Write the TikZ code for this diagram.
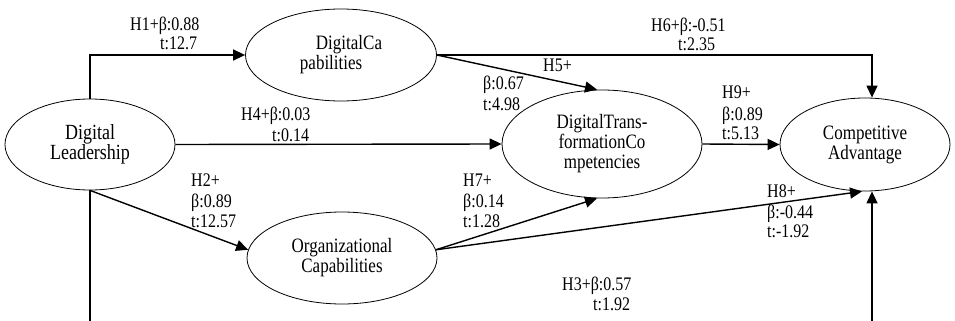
\documentclass[tikz,border=0pt]{standalone}
\usepackage{graphicx}
\usepackage{fontspec}
\setmainfont{Liberation Serif}
\usetikzlibrary{shapes.geometric,arrows.meta}
% glyphs are set slightly taller than wide
\newcommand{\tl}[1]{\scalebox{1}[1.2]{#1}}
\begin{document}
\begin{tikzpicture}[x=1pt,y=-1pt,
  construct/.style={draw, ellipse, line width=0.8pt, inner sep=0pt, align=center,
    font=\fontsize{17}{20}\selectfont},
  conn/.style={line width=1.4pt, -{Triangle[length=12pt,width=11pt]}},
  lbl/.style={anchor=base west, inner sep=0pt, font=\fontsize{16}{20}\selectfont}]
\useasboundingbox (0,0) rectangle (955,321);

% constructs
\node[construct, minimum width=170pt, minimum height=91pt,
      font=\fontsize{18}{20}\selectfont] (dl) at (90,144.5) {\tl{Digital}\\\tl{Leadership}};
\node[construct, minimum width=191pt, minimum height=92pt, align=left]
      (dc) at (341,55) {\hspace*{16pt}\tl{DigitalCa}\\\tl{pabilities}};
\node[construct, minimum width=200pt, minimum height=108pt]
      (dtc) at (602,144) {\tl{DigitalTrans-}\\\tl{formationCo}\\\tl{mpetencies}};
\node[construct, minimum width=170pt, minimum height=93pt]
      (ca) at (865,144.5) {\tl{Competitive}\\\tl{Advantage}};
\node[construct, minimum width=190pt, minimum height=92pt]
      (oc) at (342,258) {\tl{Organizational}\\\tl{Capabilities}};

% paths
\draw[conn] (dl.north) |- (dc.west);
\draw[conn] (dc.east) -| ([xshift=7pt]ca.north);
\draw[conn] (dc.east) -- ([xshift=-5pt]dtc.north);
\draw[conn] (dl.east) -- (dtc.west);
\draw[conn] (dtc.east) -- (ca.west);
\draw[conn] (dl.south) -- (oc.175);
\draw[conn] (oc.5) -- ([xshift=-5pt]dtc.south);
\draw[conn] (oc.5) -- ([xshift=-3pt]ca.south);
\draw[conn] (dl.south) -- ++(0,150) -| ([xshift=7pt]ca.south);

% path coefficients
\node[lbl] (h1a) at (130,31) {\tl{H1+β:0.88}};
\node[lbl] (h1b) at (160,50) {\tl{t:12.7}};
\node[lbl] (h6a) at (651,32) {\tl{H6+β:-0.51}};
\node[lbl] (h6b) at (678,51) {\tl{t:2.35}};
\node[lbl] (h5a) at (543,71) {\tl{H5+}};
\node[lbl] (h5b) at (483,89) {\tl{β:0.67}};
\node[lbl] (h5c) at (483,110) {\tl{t:4.98}};
\node[lbl] (h4a) at (241,120) {\tl{H4+β:0.03}};
\node[lbl] (h4b) at (272,141) {\tl{t:0.14}};
\node[lbl] (h9a) at (722,98) {\tl{H9+}};
\node[lbl] (h9b) at (722,120) {\tl{β:0.89}};
\node[lbl] (h9c) at (722,139) {\tl{t:5.13}};
\node[lbl] (h2a) at (191,186) {\tl{H2+}};
\node[lbl] (h2b) at (191,207) {\tl{β:0.89}};
\node[lbl] (h2c) at (191,227) {\tl{t:12.57}};
\node[lbl] (h7a) at (463,186) {\tl{H7+}};
\node[lbl] (h7b) at (463,207) {\tl{β:0.14}};
\node[lbl] (h7c) at (463,227) {\tl{t:1.28}};
\node[lbl] (h8a) at (767,197) {\tl{H8+}};
\node[lbl] (h8b) at (767,218) {\tl{β:-0.44}};
\node[lbl] (h8c) at (767,237) {\tl{t:-1.92}};
\node[lbl] (h3a) at (562,290) {\tl{H3+β:0.57}};
\node[lbl] (h3b) at (593,310) {\tl{t:1.92}};
\end{tikzpicture}
\end{document}
